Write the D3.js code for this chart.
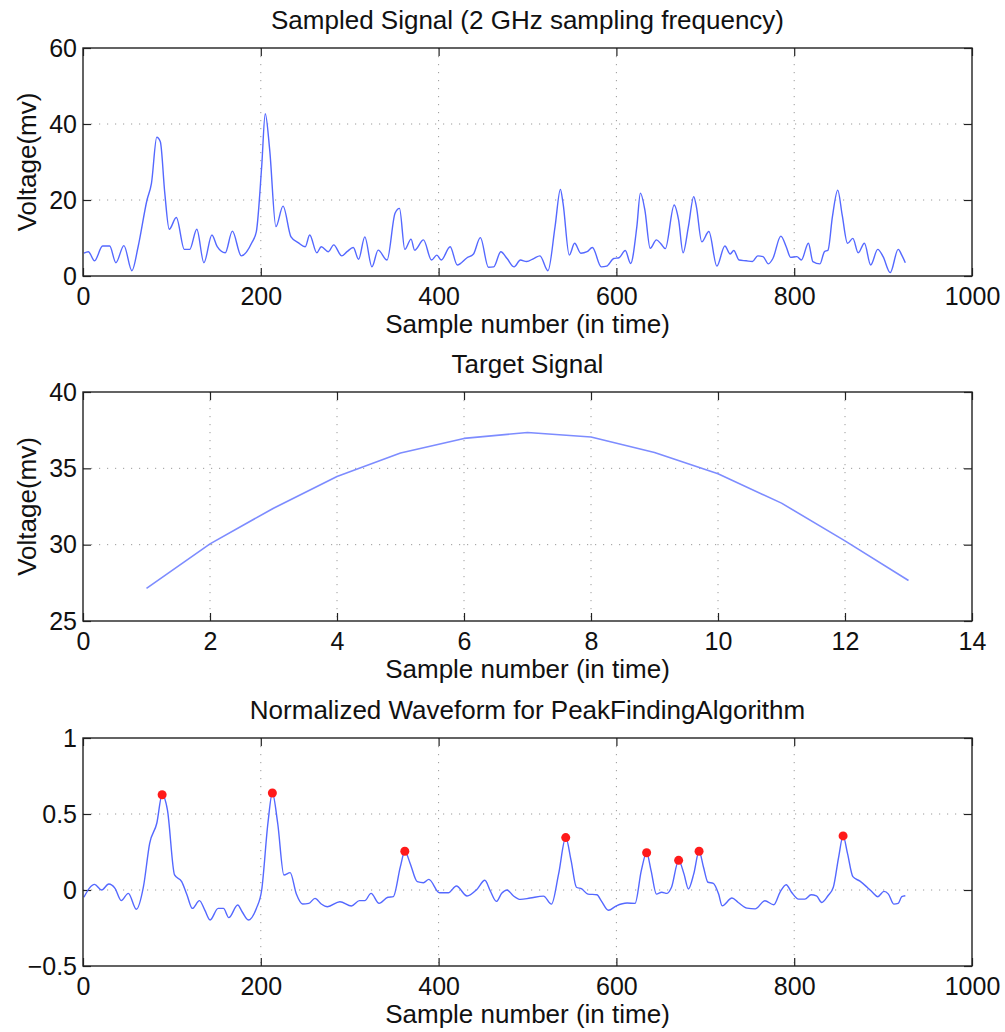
<!DOCTYPE html>
<html>
  <head>
    <meta charset="utf-8">
    <script src="https://d3js.org/d3.v7.min.js"></script>
    <title>Peak finding</title>
    <style type="text/css">
      body {
        margin: 0;
        background: #fff;
      }
      svg {
        display: block;
        font-family: "Liberation Sans", Arial, Helvetica, sans-serif;
      }
      .line {
        fill: none;
        stroke: #5468ff;
        stroke-width: 1.4;
        stroke-linejoin: round;
      }
      .grid line {
        stroke: #9a9a9a;
        stroke-width: 1;
        stroke-dasharray: 1.2, 6.8;
      }
      .tick text {
        font-size: 25px;
        fill: #111;
      }
      .tick line {
        stroke: #222;
        stroke-width: 1.2;
      }
      .label {
        font-size: 26px;
        fill: #111;
      }
    </style>
  </head>
  <body>
    <div id="chart"></div>

    <script type="text/javascript">
      // top: sampled signal (mV)
      var sampledX = [1, 6, 13, 22, 30, 37, 46, 55, 62, 72, 77, 83, 87, 92, 97, 105, 114, 120, 128, 136,
                      145, 151, 160, 168, 178, 190, 195, 201, 205, 210, 217, 225, 234, 242, 250, 255, 263, 268, 276, 282,
                      291, 297, 304, 310, 317, 325, 332, 342, 351, 356, 362, 369, 373, 383, 392, 398, 403, 413, 421, 432,
                      439, 447, 456, 462, 470, 477, 485, 492, 499, 507, 514, 523, 531, 537, 540, 547, 553, 560, 567, 573,
                      583, 589, 597, 603, 610, 616, 623, 627, 632, 638, 645, 650, 655, 665, 670, 675, 681, 687, 690, 696,
                      704, 713, 722, 728, 732, 738, 746, 753, 759, 765, 771, 776, 785, 791, 796, 803, 808, 816, 821, 829,
                      834, 838, 843, 849, 854, 860, 866, 872, 879, 886, 894, 900, 908, 917, 921, 925];
      var sampledY = [6.0, 6.4, 4.0, 7.9, 7.9, 3.5, 8.0, 1.4, 7.7, 20.0, 24.4, 36.5, 35.3, 21.8, 12.3, 15.4, 7.0, 7.0, 12.3, 3.5,
                      10.8, 7.7, 6.1, 11.8, 5.3, 8.8, 11.7, 28.8, 42.7, 33.2, 13.0, 18.4, 10.3, 8.8, 7.7, 10.8, 6.1, 7.7, 6.4, 8.2,
                      5.3, 6.4, 7.5, 4.4, 10.3, 2.4, 6.8, 4.2, 16.5, 17.8, 7.0, 9.7, 6.8, 9.5, 4.2, 5.5, 4.2, 7.7, 2.9, 4.8,
                      5.7, 10.1, 2.3, 2.4, 6.4, 4.6, 2.4, 4.2, 3.8, 4.6, 5.3, 1.4, 13.0, 22.8, 19.1, 5.5, 8.6, 6.0, 6.4, 7.5,
                      2.4, 2.6, 4.6, 4.8, 6.7, 3.3, 13.0, 21.8, 17.4, 7.3, 9.5, 8.5, 7.2, 18.7, 14.7, 6.1, 13.0, 20.9, 18.2, 9.0,
                      11.7, 2.6, 7.9, 5.8, 6.7, 4.2, 4.0, 3.8, 5.3, 5.1, 3.2, 4.6, 10.5, 7.7, 4.9, 5.1, 4.2, 8.6, 3.8, 3.2,
                      6.4, 6.8, 15.6, 22.6, 16.0, 8.6, 9.9, 6.1, 8.6, 2.9, 7.0, 5.1, 0.9, 7.0, 5.5, 3.5];

      // middle: target signal (mV)
      var targetX = [1, 2, 3, 4, 5, 6, 7, 8, 9, 10, 11, 12, 13];
      var targetY = [27.14, 30.05, 32.39, 34.47, 36.0, 36.96, 37.35, 37.05, 36.04, 34.64, 32.72, 30.25, 27.65];

      // bottom: normalized waveform
      var normX = [1, 7, 13, 21, 29, 36, 43, 51, 60, 68, 75, 83, 89, 95, 103, 111, 117, 123, 131, 137,
                   143, 152, 158, 164, 174, 179, 186, 195, 201, 208, 213, 219, 226, 233, 240, 247, 254, 261, 268, 275,
                   289, 302, 311, 317, 324, 333, 343, 349, 357, 362, 368, 376, 383, 389, 401, 411, 420, 432, 443, 452,
                   458, 465, 471, 477, 484, 492, 503, 518, 527, 535, 543, 549, 555, 561, 568, 578, 583, 591, 600, 612,
                   621, 628, 634, 639, 645, 651, 657, 662, 670, 676, 681, 687, 693, 698, 703, 709, 715, 719, 730, 737,
                   747, 756, 767, 777, 784, 791, 797, 805, 812, 819, 825, 831, 838, 844, 850, 855, 860, 866, 874, 882,
                   888, 894, 901, 906, 912, 917, 921, 925];
      var normY = [-0.048, 0.011, 0.037, 0.0, 0.039, 0.011, -0.07, -0.022, -0.127, 0.022, 0.307, 0.439, 0.627, 0.526, 0.099, 0.055, -0.033, -0.121, -0.07, -0.132,
                   -0.197, -0.121, -0.121, -0.182, -0.099, -0.143, -0.197, -0.121, 0.0, 0.439, 0.638, 0.439, 0.099, 0.114, -0.026, -0.092, -0.088, -0.055, -0.092, -0.11,
                   -0.077, -0.105, -0.07, -0.07, -0.022, -0.088, -0.048, -0.044, 0.154, 0.255, 0.175, 0.055, 0.048, 0.07, -0.018, -0.018, 0.026, -0.039, 0.004, 0.064,
                   -0.004, -0.075, -0.022, 0.0, -0.038, -0.062, -0.053, -0.04, -0.093, 0.106, 0.345, 0.195, 0.018, 0.007, -0.027, -0.031, -0.071, -0.133, -0.104, -0.086,
                   -0.088, 0.128, 0.245, 0.128, -0.027, -0.015, -0.022, 0.018, 0.195, 0.106, 0.007, 0.106, 0.255, 0.15, 0.051, 0.044, -0.027, -0.104, -0.053, -0.082,
                   -0.119, -0.124, -0.071, -0.097, -0.015, 0.035, -0.015, -0.06, -0.06, -0.031, -0.038, -0.082, -0.038, 0.018, 0.217, 0.356, 0.239, 0.088, 0.058, 0.018,
                   -0.015, -0.044, -0.009, -0.027, -0.093, -0.088, -0.044, -0.038];

      var peakX = [89, 213, 362, 543, 634, 670, 693, 855];
      var peakY = [0.627, 0.638, 0.255, 0.345, 0.245, 0.195, 0.255, 0.356];

      var sampleTicks = [0, 200, 400, 600, 800, 1000],
          targetTicks = [0, 2, 4, 6, 8, 10, 12, 14];

      var width = 1005,
          height = 1032,
          left = 83,
          right = 972,
          tickLen = 8;

      var svg = d3.select('#chart')
        .append('svg')
        .attr('width', width)
        .attr('height', height);

      svg.append('rect')
        .attr('width', width)
        .attr('height', height)
        .attr('fill', '#fff');

      function panel(opt) {
        var x = d3.scaleLinear().domain(opt.xDomain).range([left, right]),
            y = d3.scaleLinear().domain(opt.yDomain).range([opt.bottom, opt.top]);

        var g = svg.append('g');

        // dotted grid
        var grid = g.append('g').attr('class', 'grid');
        grid.selectAll('.gx')
          .data(opt.xTicks.slice(1, -1))
          .enter()
            .append('line')
            .attr('x1', function(d) { return x(d); })
            .attr('x2', function(d) { return x(d); })
            .attr('y1', opt.top)
            .attr('y2', opt.bottom);
        grid.selectAll('.gy')
          .data(opt.yTicks.slice(1, -1))
          .enter()
            .append('line')
            .attr('x1', left)
            .attr('x2', right)
            .attr('y1', function(d) { return y(d); })
            .attr('y2', function(d) { return y(d); });

        // axes, ticks pointing inward
        g.append('g')
          .attr('transform', 'translate(0,' + opt.bottom + ')')
          .call(d3.axisBottom(x).tickValues(opt.xTicks).tickSize(-tickLen).tickPadding(11).tickFormat(d3.format('d')));
        g.append('g')
          .attr('transform', 'translate(0,' + opt.top + ')')
          .call(d3.axisTop(x).tickValues(opt.xTicks).tickSize(-tickLen).tickFormat(''));
        g.append('g')
          .attr('transform', 'translate(' + left + ',0)')
          .call(d3.axisLeft(y).tickValues(opt.yTicks).tickSize(-tickLen).tickPadding(6).tickFormat(opt.yFormat));
        g.append('g')
          .attr('transform', 'translate(' + right + ',0)')
          .call(d3.axisRight(y).tickValues(opt.yTicks).tickSize(-tickLen).tickFormat(''));

        g.selectAll('.domain').remove();
        g.selectAll('.tick text').attr('font-family', null).attr('font-size', null);

        // data
        var pts = opt.xs.map(function(d, i) { return [d, opt.ys[i]]; });
        var line = d3.line()
          .curve(opt.curve || d3.curveMonotoneX)
          .x(function(d) { return x(d[0]); })
          .y(function(d) { return y(d[1]); });
        g.append('path')
          .datum(pts)
          .attr('class', 'line')
          .attr('d', line)
          .style('stroke', opt.color || null)
          .style('stroke-width', opt.lineWidth || null);

        if (opt.peaksX) {
          g.selectAll('.peak')
            .data(opt.peaksX)
            .enter()
              .append('circle')
              .attr('cx', function(d) { return x(d); })
              .attr('cy', function(d, i) { return y(opt.peaksY[i]); })
              .attr('r', 4.5)
              .attr('fill', '#ff1a1a');
        }

        // frame
        g.append('rect')
          .attr('x', left)
          .attr('y', opt.top)
          .attr('width', right - left)
          .attr('height', opt.bottom - opt.top)
          .attr('fill', 'none')
          .attr('stroke', '#222')
          .attr('stroke-width', 1.4);

        // texts
        g.append('text')
          .attr('class', 'label')
          .attr('x', (left + right) / 2)
          .attr('y', opt.top - 19)
          .attr('text-anchor', 'middle')
          .text(opt.title);
        g.append('text')
          .attr('class', 'label')
          .attr('x', (left + right) / 2)
          .attr('y', opt.bottom + 57)
          .attr('text-anchor', 'middle')
          .text('Sample number (in time)');
        if (opt.yLabel) {
          g.append('text')
            .attr('class', 'label')
            .attr('transform', 'translate(36,' + (opt.top + opt.bottom) / 2 + ') rotate(-90)')
            .attr('text-anchor', 'middle')
            .text(opt.yLabel);
        }
      }

      panel({
        top: 48, bottom: 276,
        xDomain: [0, 1000], yDomain: [0, 60],
        xTicks: sampleTicks, yTicks: [0, 20, 40, 60],
        yFormat: d3.format('d'),
        xs: sampledX, ys: sampledY,
        title: 'Sampled Signal (2 GHz sampling frequency)',
        yLabel: 'Voltage(mv)'
      });

      panel({
        top: 392, bottom: 621,
        xDomain: [0, 14], yDomain: [25, 40],
        xTicks: targetTicks, yTicks: [25, 30, 35, 40],
        yFormat: d3.format('d'),
        xs: targetX, ys: targetY,
        curve: d3.curveLinear,
        color: '#7d8cff', lineWidth: 1.6,
        title: 'Target Signal',
        yLabel: 'Voltage(mv)'
      });

      panel({
        top: 738, bottom: 966,
        xDomain: [0, 1000], yDomain: [-0.5, 1],
        xTicks: sampleTicks, yTicks: [-0.5, 0, 0.5, 1],
        yFormat: function(d) { return d < 0 ? '\u2212' + Math.abs(d) : String(d); },
        xs: normX, ys: normY,
        peaksX: peakX, peaksY: peakY,
        title: 'Normalized Waveform for PeakFindingAlgorithm'
      });
    </script>
  </body>
</html>
